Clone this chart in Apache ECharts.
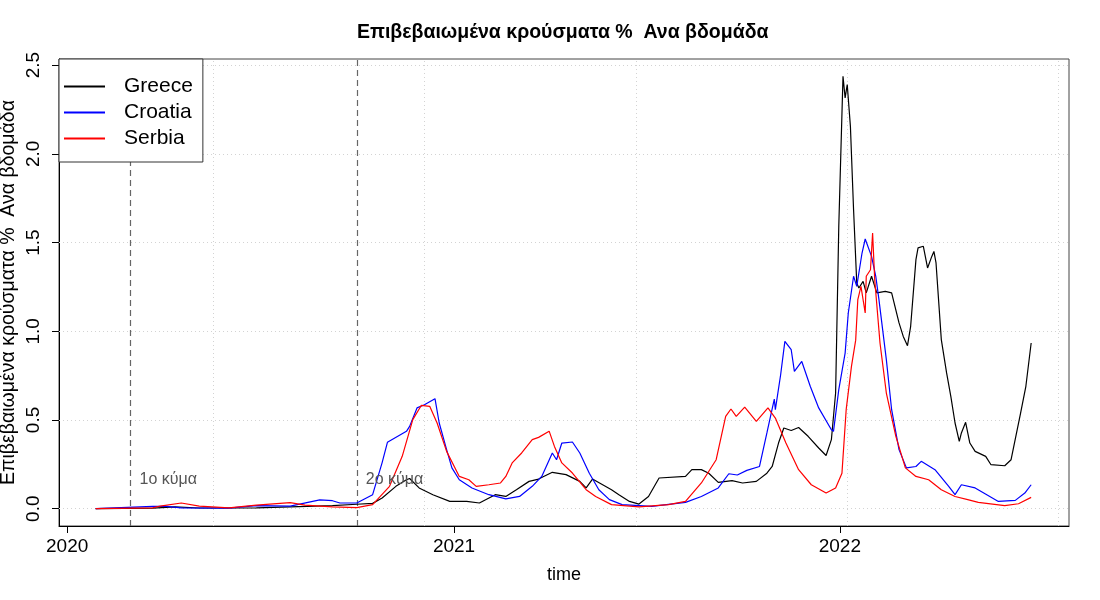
<!DOCTYPE html>
<html lang="el">
<head>
<meta charset="UTF-8">
<title>Επιβεβαιωμένα κρούσματα % Ανα βδομάδα</title>
<script src="https://cdn.jsdelivr.net/npm/echarts@6/dist/echarts.min.js"></script>
<style>
    html,body{margin:0;padding:0;background:#fff;}
    #chart{width:1100px;height:600px;}
</style>
</head>
<body>
<div id="chart"></div>
<script>
// values (weekly cases as % of population)
var greeceDates = ['2020-01-28','2020-03-22','2020-04-12','2020-05-05','2020-06-28','2020-07-30','2020-09-08','2020-10-01','2020-10-16','2020-10-25','2020-11-07','2020-11-17','2020-11-20','2020-11-29','2020-12-12','2020-12-28','2021-01-13','2021-01-25','2021-02-09','2021-02-19','2021-03-01','2021-03-13','2021-03-22','2021-04-04','2021-04-17','2021-04-30','2021-05-06','2021-05-12','2021-05-30','2021-06-06','2021-06-16','2021-06-25','2021-07-04','2021-07-14','2021-08-08','2021-08-14','2021-08-23','2021-08-30','2021-09-08','2021-09-21','2021-10-01','2021-10-14','2021-10-24','2021-10-29','2021-11-04','2021-11-09','2021-11-16','2021-11-23','2021-12-02','2021-12-12','2021-12-19','2021-12-24','2021-12-28','2021-12-31','2022-01-04','2022-01-06','2022-01-08','2022-01-11','2022-01-14','2022-01-17','2022-01-19','2022-01-23','2022-01-26','2022-01-31','2022-02-05','2022-02-13','2022-02-19','2022-02-26','2022-03-02','2022-03-06','2022-03-09','2022-03-14','2022-03-16','2022-03-21','2022-03-25','2022-03-29','2022-03-31','2022-04-02','2022-04-07','2022-04-12','2022-04-16','2022-04-20','2022-04-24','2022-04-26','2022-04-30','2022-05-04','2022-05-09','2022-05-19','2022-05-24','2022-06-06','2022-06-12','2022-06-21','2022-06-26','2022-07-01'];
var greeceValues = [0,0.003,0.01,0.004,0.005,0.01,0.017,0.025,0.03,0.06,0.126,0.163,0.17,0.117,0.079,0.041,0.041,0.032,0.079,0.069,0.107,0.154,0.167,0.205,0.192,0.154,0.117,0.167,0.107,0.079,0.041,0.026,0.069,0.173,0.182,0.22,0.22,0.2,0.148,0.158,0.145,0.154,0.2,0.238,0.37,0.455,0.441,0.458,0.408,0.342,0.3,0.389,0.652,1.59,2.437,2.315,2.39,2.155,1.685,1.272,1.244,1.281,1.216,1.31,1.216,1.225,1.216,1.047,0.971,0.919,1.028,1.404,1.47,1.479,1.357,1.422,1.45,1.385,0.953,0.765,0.633,0.483,0.38,0.427,0.487,0.37,0.323,0.295,0.248,0.242,0.276,0.539,0.69,0.934];

var croatiaDates = ['2020-01-28','2020-03-22','2020-04-04','2020-04-18','2020-06-02','2020-06-28','2020-07-30','2020-08-27','2020-09-08','2020-09-15','2020-10-01','2020-10-16','2020-10-25','2020-10-30','2020-11-17','2020-11-20','2020-11-27','2020-12-04','2020-12-14','2020-12-18','2020-12-25','2020-12-30','2021-01-06','2021-01-18','2021-02-03','2021-02-19','2021-03-04','2021-03-16','2021-03-25','2021-04-04','2021-04-08','2021-04-13','2021-04-23','2021-04-30','2021-05-09','2021-05-18','2021-05-28','2021-06-09','2021-07-07','2021-08-08','2021-08-23','2021-09-08','2021-09-18','2021-09-26','2021-10-05','2021-10-17','2021-10-24','2021-10-31','2021-11-01','2021-11-06','2021-11-10','2021-11-16','2021-11-19','2021-11-26','2021-12-04','2021-12-12','2021-12-24','2021-12-26','2021-12-31','2022-01-06','2022-01-09','2022-01-14','2022-01-17','2022-01-22','2022-01-25','2022-01-31','2022-02-04','2022-02-07','2022-02-14','2022-02-19','2022-02-26','2022-03-05','2022-03-14','2022-03-19','2022-04-01','2022-04-14','2022-04-20','2022-04-26','2022-05-09','2022-05-31','2022-06-16','2022-06-25','2022-07-01'];
var croatiaValues = [0,0.013,0.013,0.005,0.003,0.017,0.015,0.05,0.045,0.032,0.032,0.079,0.26,0.374,0.436,0.464,0.568,0.586,0.62,0.483,0.333,0.23,0.163,0.117,0.079,0.055,0.069,0.126,0.182,0.314,0.276,0.37,0.376,0.314,0.2,0.107,0.051,0.023,0.013,0.036,0.069,0.117,0.197,0.19,0.216,0.238,0.427,0.618,0.558,0.755,0.943,0.896,0.774,0.83,0.69,0.568,0.445,0.436,0.671,0.877,1.103,1.31,1.253,1.441,1.52,1.422,1.31,1.178,0.84,0.558,0.333,0.23,0.238,0.267,0.22,0.126,0.079,0.135,0.117,0.041,0.047,0.088,0.135];

var serbiaDates = ['2020-01-28','2020-03-22','2020-03-29','2020-04-18','2020-05-05','2020-06-02','2020-06-28','2020-07-30','2020-08-13','2020-09-08','2020-10-01','2020-10-16','2020-11-01','2020-11-13','2020-11-23','2020-12-01','2020-12-09','2020-12-16','2020-12-25','2021-01-06','2021-01-15','2021-01-22','2021-02-03','2021-02-14','2021-02-19','2021-02-25','2021-03-06','2021-03-16','2021-03-22','2021-04-01','2021-04-06','2021-04-13','2021-04-23','2021-05-06','2021-05-15','2021-05-30','2021-06-25','2021-07-23','2021-08-08','2021-08-23','2021-09-06','2021-09-15','2021-09-20','2021-09-25','2021-10-03','2021-10-14','2021-10-25','2021-11-01','2021-11-11','2021-11-23','2021-12-05','2021-12-19','2021-12-28','2022-01-03','2022-01-07','2022-01-12','2022-01-16','2022-01-18','2022-01-21','2022-01-25','2022-01-26','2022-01-30','2022-02-01','2022-02-03','2022-02-08','2022-02-14','2022-02-23','2022-03-04','2022-03-14','2022-03-26','2022-04-07','2022-04-20','2022-05-02','2022-05-12','2022-06-06','2022-06-19','2022-07-01'];
var serbiaValues = [0,0.005,0.015,0.032,0.015,0.005,0.02,0.034,0.02,0.01,0.006,0.023,0.126,0.295,0.502,0.582,0.577,0.483,0.323,0.182,0.163,0.126,0.135,0.145,0.182,0.258,0.314,0.389,0.402,0.437,0.351,0.258,0.201,0.107,0.069,0.023,0.01,0.023,0.041,0.145,0.276,0.52,0.562,0.52,0.573,0.492,0.568,0.511,0.37,0.22,0.135,0.088,0.117,0.2,0.558,0.802,0.95,1.178,1.253,1.103,1.31,1.347,1.554,1.29,0.934,0.652,0.408,0.23,0.182,0.163,0.107,0.069,0.051,0.036,0.017,0.028,0.064];

var yearTicks = ['2020-01-01','2021-01-01','2022-01-01'];
var yTicks = [0,0.5,1,1.5,2,2.5];
var gridDates = ['2020-05-18','2020-12-04','2021-06-22','2022-01-08','2022-07-27'];
var waveDates = ['2020-03-01','2020-10-01'];
var waveNames = ['1ο κύμα','2ο κύμα'];

var DAY = 86400000;
function t(s){ return Date.parse(s + 'T00:00:00Z'); }
function pairs(dates, vals){ return dates.map(function(d,i){ return [t(d), vals[i]]; }); }

var font = '"Liberation Sans", Arial, Helvetica, sans-serif';
var chart = echarts.init(document.getElementById('chart'));

var marks = [];
gridDates.forEach(function(d){
    marks.push({xAxis: t(d), lineStyle: {color:'#d3d3d3', type:[1,3], width:1}});
});
yTicks.forEach(function(v){
    marks.push({yAxis: v, lineStyle: {color:'#d3d3d3', type:[1,3], width:1}});
});
waveDates.forEach(function(d){
    marks.push({xAxis: t(d), lineStyle: {color:'#666', type:[6,4], width:1.2}});
});

var waveLabels = waveDates.map(function(d,i){
    return {
        coord: [t(d), 0.163], symbol: 'circle', symbolSize: 0,
        label: {show:true, position:'right', distance:9, formatter: waveNames[i],
                color:'#555', fontSize:16, fontFamily: font}
    };
});

chart.setOption({
    animation: false,
    textStyle: {fontFamily: font},
    title: {
        text: 'Επιβεβαιωμένα κρούσματα %  Ανα βδομάδα',
        left: 352, top: 18,
        textStyle: {fontSize: 19.5, fontWeight: 'bold', color: '#000', fontFamily: font}
    },
    grid: {left: 59, right: 31, top: 59, bottom: 74, show: true, borderColor: '#444', borderWidth: 1,
           containLabel: false, outerBoundsMode: 'none'},
    legend: {
        orient: 'vertical', left: 59, top: 59,
        padding: [17, 10, 13, 5], itemGap: 5,
        itemWidth: 41, itemHeight: 2, icon: 'rect',
        backgroundColor: '#fff', borderColor: '#333', borderWidth: 1, borderRadius: 0,
        textStyle: {fontSize: 21, color: '#000', padding: [0,0,0,14], fontFamily: font},
        data: ['Greece','Croatia','Serbia']
    },
    xAxis: {
        type: 'value',
        min: t('2020-01-01') - 7.7 * DAY,
        max: t('2020-01-01') + 947.8 * DAY,
        name: 'time', nameLocation: 'middle', nameGap: 40, nameMoveOverlap: false,
        nameTextStyle: {fontSize: 18, color: '#000', fontFamily: font},
        axisLine: {show: true, onZero: false, lineStyle: {color: '#000'}},
        axisTick: {show: true, length: 7, customValues: yearTicks.map(t), lineStyle: {color: '#000'}},
        axisLabel: {customValues: yearTicks.map(t), margin: 11, fontSize: 19, color: '#000',
                    formatter: function(v){ return String(new Date(v).getUTCFullYear()); }},
        splitLine: {show: false}
    },
    yAxis: {
        type: 'value', min: -0.0975, max: 2.5345,
        name: 'Επιβεβαιωμένα κρούσματα %  Ανα βδομάδα',
        nameLocation: 'middle', nameRotate: 90, nameGap: 40, nameMoveOverlap: false,
        nameTextStyle: {fontSize: 19.5, color: '#000', fontFamily: font},
        axisLine: {show: true, onZero: false, lineStyle: {color: '#000'}},
        axisTick: {show: true, length: 7, customValues: yTicks, lineStyle: {color: '#000'}},
        axisLabel: {customValues: yTicks, rotate: 90, margin: 16, fontSize: 19, color: '#000',
                    formatter: function(v){ return v.toFixed(1); }},
        splitLine: {show: false}
    },
    series: [
        {
            name: 'Greece', type: 'line', showSymbol: false, symbol: 'none',
            lineStyle: {color: '#000', width: 1.2}, itemStyle: {color: '#000'},
            data: pairs(greeceDates, greeceValues),
            markLine: {silent: true, symbol: ['none','none'], label: {show: false}, data: marks, z: 1},
            markPoint: {silent: true, data: waveLabels}
        },
        {
            name: 'Croatia', type: 'line', showSymbol: false, symbol: 'none',
            lineStyle: {color: '#0000ff', width: 1.2}, itemStyle: {color: '#0000ff'},
            data: pairs(croatiaDates, croatiaValues)
        },
        {
            name: 'Serbia', type: 'line', showSymbol: false, symbol: 'none',
            lineStyle: {color: '#ff0000', width: 1.2}, itemStyle: {color: '#ff0000'},
            data: pairs(serbiaDates, serbiaValues)
        }
    ]
});
</script>
</body>
</html>
